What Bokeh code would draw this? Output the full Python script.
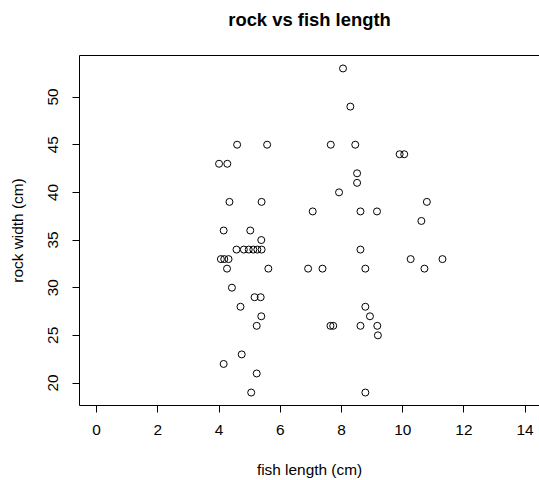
from bokeh.plotting import figure
from bokeh.models import Range1d, FixedTicker, LinearAxis
from bokeh.embed import file_html
from bokeh.resources import INLINE

# data
fish_length = [4.59, 5.57, 4.00, 4.27, 4.34, 5.39, 4.15, 5.02, 5.38,
               4.57, 4.81, 4.97, 5.12, 5.25, 5.39,
               4.06, 4.17, 4.31, 4.26, 5.61, 4.42, 5.16, 5.36, 4.70,
               5.38, 5.23, 4.74, 4.15, 5.23, 5.05,
               8.05, 8.29, 7.65, 8.45, 9.90, 10.05, 8.51, 8.51, 7.92,
               10.79, 7.06, 8.62, 9.16, 10.61, 8.62, 10.26, 11.30,
               6.91, 7.38, 8.78, 10.71, 8.78, 8.93, 7.64, 7.73, 8.62,
               9.17, 9.19, 8.78]
rock_width = [45, 45, 43, 43, 39, 39, 36, 36, 35,
              34, 34, 34, 34, 34, 34,
              33, 33, 33, 32, 32, 30, 29, 29, 28,
              27, 26, 23, 22, 21, 19,
              53, 49, 45, 45, 44, 44, 42, 41, 40,
              39, 38, 38, 38, 37, 34, 33, 33,
              32, 32, 32, 32, 28, 27, 26, 26, 26,
              26, 25, 19]
x_ticks = [0, 2, 4, 6, 8, 10, 12, 14]
y_ticks = [20, 25, 30, 35, 40, 45, 50]
title_text = "rock vs fish length"

FONT = "Liberation Sans"

p = figure(width=539, height=480, output_backend="svg", toolbar_location=None,
           x_range=Range1d(-0.56, 14.47), y_range=Range1d(17.64, 54.36),
           min_border_left=79, min_border_right=0, min_border_top=55,
           min_border_bottom=74)
p.background_fill_color = "white"
p.border_fill_color = "white"
p.outline_line_color = None
p.grid.visible = False

xax = p.below[0]
yax = p.left[0]

# top edge of the box; its axis label carries the chart title
top_axis = LinearAxis(ticker=FixedTicker(ticks=[]), axis_line_color="black",
                      axis_line_width=1, major_tick_line_color=None,
                      minor_tick_line_color=None, major_label_text_color=None,
                      major_label_standoff=0, major_tick_out=0, major_tick_in=0,
                      axis_label=title_text, axis_label_standoff=26,
                      axis_label_text_font=FONT, axis_label_text_font_size="18.4px",
                      axis_label_text_font_style="bold", axis_label_text_color="black")
p.add_layout(top_axis, "above")

for ax in (xax, yax):
    ax.axis_line_color = "black"
    ax.axis_line_width = 1
    ax.major_tick_line_color = "black"
    ax.major_tick_out = 7
    ax.major_tick_in = 0
    ax.minor_tick_line_color = None
    ax.major_label_text_font = FONT
    ax.major_label_text_font_size = "15.4px"
    ax.major_label_text_color = "black"
    ax.axis_label_text_font = FONT
    ax.axis_label_text_font_size = "15.4px"
    ax.axis_label_text_font_style = "normal"
    ax.axis_label_text_color = "black"

xax.ticker = FixedTicker(ticks=x_ticks)
yax.ticker = FixedTicker(ticks=y_ticks)
xax.axis_label = "fish length (cm)"
yax.axis_label = "rock width (cm)"
xax.major_label_standoff = 12
xax.axis_label_standoff = 23
yax.major_label_orientation = "vertical"
yax.major_label_standoff = 14
yax.axis_label_standoff = 20

p.scatter(fish_length, rock_width, marker="circle", size=7,
          fill_color=None, line_color="black", line_width=1)

open("out.html", "w").write(file_html(p, INLINE))
